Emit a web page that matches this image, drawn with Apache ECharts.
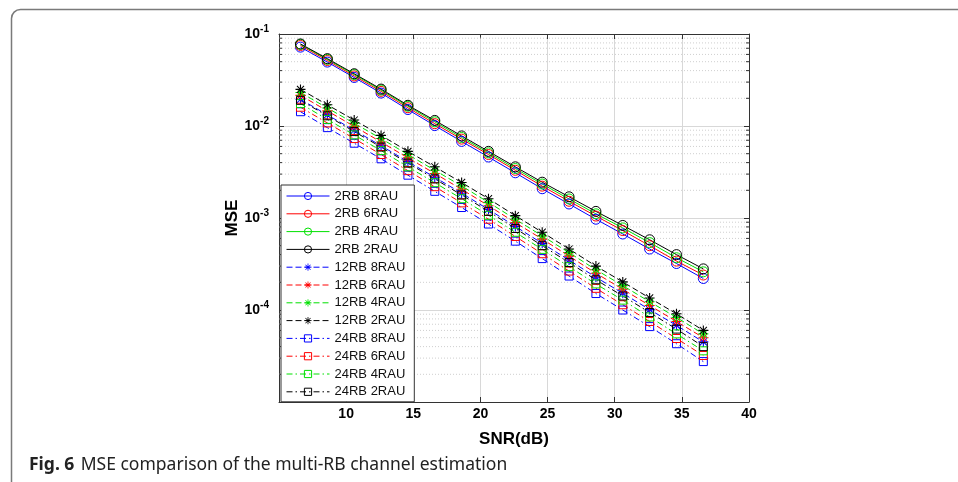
<!DOCTYPE html>
<html>
<head>
<meta charset="utf-8">
<script src="https://cdn.jsdelivr.net/npm/echarts@6/dist/echarts.min.js"></script>
<style>
html,body{margin:0;padding:0;background:#fff;}
#main{width:958px;height:482px;}
</style>
</head>
<body>
<div id="main"></div>
<script>
/*横轴 SNR(dB)*/
var snr = [6.6, 8.6, 10.6, 12.6, 14.6, 16.6, 18.6, 20.6, 22.6, 24.6, 26.6, 28.6, 30.6, 32.6, 34.6, 36.6];
var xTicks = [10, 15, 20, 25, 30, 35, 40];
var yTicks = [-1, -2, -3, -4];

/*2RB 曲线*/
var rb2_8 = [0.072, 0.0495, 0.0337, 0.0228, 0.0151, 0.0101, 0.0068, 0.0046, 0.0031, 0.00208, 0.00142, 0.00097, 0.00067, 0.00046, 0.00032, 0.00022];
var rb2_6 = [0.075, 0.0515, 0.035, 0.0238, 0.0158, 0.0106, 0.0072, 0.0049, 0.0033, 0.00222, 0.00152, 0.00105, 0.00073, 0.00050, 0.00034, 0.00024];
var rb2_4 = [0.077, 0.053, 0.0362, 0.0246, 0.0164, 0.0111, 0.0075, 0.0051, 0.00345, 0.00234, 0.00161, 0.00111, 0.00078, 0.00054, 0.00037, 0.00026];
var rb2_2 = [0.078, 0.054, 0.037, 0.0252, 0.0168, 0.0115, 0.0078, 0.0053, 0.0036, 0.00245, 0.00170, 0.00118, 0.00083, 0.00058, 0.00040, 0.00028];
/*12RB 曲线*/
var rb12_8 = [0.0195, 0.0132, 0.0090, 0.0061, 0.0041, 0.00277, 0.00186, 0.00124, 0.00081, 0.00053, 0.000349, 0.000227, 0.000152, 0.000101, 0.000068, 0.000045];
var rb12_6 = [0.0215, 0.0146, 0.0099, 0.0067, 0.0045, 0.00305, 0.00205, 0.00136, 0.00089, 0.00059, 0.000385, 0.000251, 0.000168, 0.000112, 0.000075, 0.000050];
var rb12_4 = [0.0231, 0.0157, 0.0107, 0.0073, 0.0049, 0.0033, 0.00223, 0.00148, 0.00097, 0.00064, 0.00042, 0.000274, 0.000184, 0.000123, 0.000083, 0.000055];
var rb12_2 = [0.025, 0.0170, 0.0116, 0.0079, 0.0053, 0.0036, 0.00243, 0.00162, 0.00106, 0.00070, 0.00046, 0.00030, 0.000202, 0.000135, 0.000091, 0.000060];
/*24RB 曲线*/
var rb24_8 = [0.0143, 0.0096, 0.0065, 0.0044, 0.00292, 0.00195, 0.00130, 0.00086, 0.00056, 0.000362, 0.000234, 0.000151, 0.000100, 0.000066, 0.000043, 0.0000275];
var rb24_6 = [0.0160, 0.0108, 0.0073, 0.0049, 0.00327, 0.00219, 0.00146, 0.00097, 0.00063, 0.000409, 0.000265, 0.000172, 0.000114, 0.000075, 0.000049, 0.000032];
var rb24_4 = [0.0175, 0.0118, 0.0080, 0.0054, 0.00360, 0.00242, 0.00162, 0.00107, 0.00070, 0.000456, 0.000296, 0.000192, 0.000128, 0.000084, 0.000055, 0.000036];
var rb24_2 = [0.0190, 0.0129, 0.0087, 0.0059, 0.00395, 0.00266, 0.00178, 0.00118, 0.00077, 0.00050, 0.000328, 0.000213, 0.000142, 0.000094, 0.000062, 0.000040];

var names = ['2RB 8RAU', '2RB 6RAU', '2RB 4RAU', '2RB 2RAU',
    '12RB 8RAU', '12RB 6RAU', '12RB 4RAU', '12RB 2RAU',
    '24RB 8RAU', '24RB 6RAU', '24RB 4RAU', '24RB 2RAU'];
var values = [rb2_8, rb2_6, rb2_4, rb2_2, rb12_8, rb12_6, rb12_4, rb12_2, rb24_8, rb24_6, rb24_4, rb24_2];

var colors = ['#0000ff', '#ff0000', '#00e000', '#000000'];
/*星号标记*/
var starPath = 'path://M-0.55,-5 L0.55,-5 L0.55,5 L-0.55,5 Z M-5,-0.55 L5,-0.55 L5,0.55 L-5,0.55 Z ' +
    'M-3.2,-3.9 L3.9,3.2 L3.2,3.9 L-3.9,-3.2 Z M3.2,-3.9 L3.9,-3.2 L-3.2,3.9 L-3.9,3.2 Z';
var font = 'Liberation Sans, Arial';

/*对数次刻度 2..9 x 10^k*/
var minorVals = [];
for (var e = -5; e < -1; e++) {
    for (var m = 2; m <= 9; m++) {
        minorVals.push(m * Math.pow(10, e));
    }
}

var series = [];
/*次网格线 + 次刻度*/
series.push({
    type: 'custom',
    silent: true,
    z: 1,
    data: minorVals.map(function (v) { return [5, v]; }),
    renderItem: function (params, api) {
        var v = api.value(1);
        var p0 = api.coord([5, v]);
        var p1 = api.coord([40, v]);
        return {
            type: 'group',
            children: [
                {type: 'line', shape: {x1: p0[0], y1: p0[1], x2: p1[0], y2: p1[1]},
                    style: {stroke: '#cfcfcf', lineWidth: 1, lineDash: [1, 2]}},
                {type: 'line', shape: {x1: p0[0], y1: p0[1], x2: p0[0] + 3, y2: p0[1]},
                    style: {stroke: '#333', lineWidth: 1}},
                {type: 'line', shape: {x1: p1[0], y1: p1[1], x2: p1[0] - 3, y2: p1[1]},
                    style: {stroke: '#333', lineWidth: 1}}
            ]
        };
    }
});

for (var i = 0; i < names.length; i++) {
    var grp = Math.floor(i / 4);
    var c = colors[i % 4];
    var sym = grp == 0 ? 'circle' : (grp == 1 ? starPath : 'rect');
    var dash = grp == 0 ? 'solid' : (grp == 1 ? [6, 3] : [6, 3, 1.5, 3]);
    series.push({
        name: names[i],
        type: 'line',
        z: 3,
        data: snr.map(function (x, k) { return [x, values[i][k]]; }),
        symbol: sym,
        symbolSize: grp == 0 ? 10 : (grp == 1 ? 10 : 8),
        showAllSymbol: true,
        lineStyle: {color: c, width: 1, type: dash},
        /*空心标记: 圆和方块只描边, 星号实心*/
        itemStyle: grp == 1 ? {color: c, borderWidth: 0}
            : {color: 'rgba(255,255,255,0)', borderColor: c, borderWidth: 1},
        emphasis: {disabled: true},
        animation: false
    });
}

var chart = echarts.init(document.getElementById('main'));
chart.setOption({
    animation: false,
    backgroundColor: '#fff',
    grid: {left: 279, top: 34, width: 470, height: 368},
    legend: {
        data: names,
        orient: 'vertical',
        left: 281,
        top: 185,
        itemWidth: 43,
        itemHeight: 9,
        itemGap: 3.8,
        padding: [4, 9, 3, 5],
        backgroundColor: '#fff',
        borderColor: '#333',
        borderWidth: 1,
        borderRadius: 0,
        lineStyle: {width: 1},
        itemStyle: {borderWidth: 1},
        textStyle: {fontFamily: font, fontSize: 13, lineHeight: 14, color: '#111'}
    },
    xAxis: [{
        type: 'value', min: 5, max: 40, interval: 5,
        name: 'SNR(dB)', nameLocation: 'middle', nameGap: 29,
        nameTextStyle: {fontFamily: font, fontWeight: 'bold', fontSize: 17, color: '#000'},
        axisLine: {lineStyle: {color: '#333'}},
        axisTick: {inside: true, length: 5, lineStyle: {color: '#333'}},
        axisLabel: {
            margin: 5,
            fontFamily: font, fontWeight: 'bold', fontSize: 14, color: '#000',
            formatter: function (v) { return xTicks.indexOf(v) >= 0 ? String(v) : ''; }
        },
        splitLine: {show: true, lineStyle: {color: '#d8d8d8', width: 1}}
    }, {
        type: 'value', min: 5, max: 40, interval: 5, position: 'top',
        axisLine: {show: true, lineStyle: {color: '#333'}},
        axisTick: {inside: true, length: 5, lineStyle: {color: '#333'}},
        axisLabel: {show: false},
        splitLine: {show: false}
    }],
    yAxis: [{
        type: 'log', logBase: 10, min: 1e-5, max: 0.1,
        name: 'MSE', nameLocation: 'middle', nameGap: 37, nameRotate: 90,
        nameTextStyle: {fontFamily: font, fontWeight: 'bold', fontSize: 17, color: '#000'},
        axisLine: {show: true, lineStyle: {color: '#333'}},
        axisTick: {inside: true, length: 5, lineStyle: {color: '#333'}},
        axisLabel: {
            margin: 10,
            formatter: function (v) {
                var k = Math.round(Math.log(v) / Math.LN10);
                if (yTicks.indexOf(k) < 0) return '';
                return '{b|10}{s|' + k + '}';
            },
            rich: {
                b: {fontFamily: font, fontWeight: 'bold', fontSize: 14, color: '#000'},
                s: {fontFamily: font, fontWeight: 'bold', fontSize: 10, color: '#000', padding: [0, 0, 9, 0]}
            }
        },
        splitLine: {show: true, lineStyle: {color: '#d8d8d8', width: 1}}
    }, {
        type: 'log', logBase: 10, min: 1e-5, max: 0.1, position: 'right',
        axisLine: {show: true, lineStyle: {color: '#333'}},
        axisTick: {inside: true, length: 5, lineStyle: {color: '#333'}},
        axisLabel: {show: false},
        splitLine: {show: false}
    }],
    series: series,
    graphic: [{
        /*外框, 右侧超出画面*/
        type: 'rect',
        shape: {x: 11.5, y: 9.5, width: 980, height: 520, r: 9},
        style: {fill: 'none', stroke: '#7a7a7a', lineWidth: 1.5},
        silent: true
    }, {
        type: 'text',
        x: 29,
        y: 465,
        style: {
            text: '{f|Fig. 6} {t|MSE comparison of the multi-RB channel estimation}',
            verticalAlign: 'middle',
            rich: {
                f: {fontFamily: 'Noto Sans', fontWeight: 'bold', fontSize: 17.5, fill: '#222'},
                t: {fontFamily: 'Noto Sans', fontSize: 17.5, fill: '#222', padding: [0, 0, 0, 3]}
            }
        }
    }]
});
</script>
</body>
</html>
